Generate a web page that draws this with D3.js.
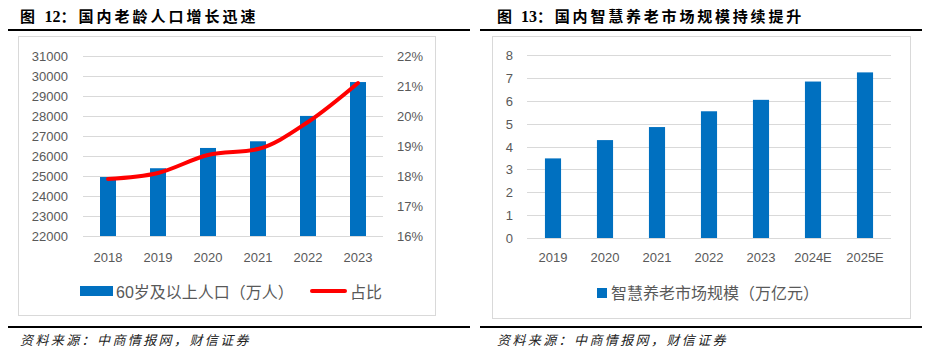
<!DOCTYPE html>
<html>
<head>
<meta charset="utf-8">
<script src="https://cdn.jsdelivr.net/npm/d3@7"></script>
<style>
  body { margin: 0; background: #fff; }
  svg text { font-family: "Liberation Sans", "Noto Sans CJK SC", sans-serif; }
</style>
</head>
<body>
<div id="chart"></div>
<script>
// left chart: elderly population
var years = ["2018", "2019", "2020", "2021", "2022", "2023"];
var elderly = [24949, 25388, 26402, 26736, 28004, 29697]; // 万人
var share = [17.9, 18.1, 18.7, 18.9, 19.8, 21.1]; // %
var popTicks = [22000, 23000, 24000, 25000, 26000, 27000, 28000, 29000, 30000, 31000];
var pctTicks = [16, 17, 18, 19, 20, 21, 22];

// right chart: smart elderly-care market
var marketYears = ["2019", "2020", "2021", "2022", "2023", "2024E", "2025E"];
var marketSize = [3.48, 4.28, 4.85, 5.54, 6.04, 6.84, 7.24]; // 万亿元
var marketTicks = [0, 1, 2, 3, 4, 5, 6, 7, 8];

var blue = "#0070c0",
    red = "#ff0000",
    grid = "#d9d9d9",
    labelColor = "#595959";

var svg = d3.select("#chart").append("svg")
    .attr("width", 935)
    .attr("height", 359);

// frame: title, black rules, box, source line
function frame(x0, x1, boxX0, boxX1, boxY1, titleX, num, title, spacing) {
    var t = svg.append("text")
        .attr("x", titleX)
        .attr("y", 22)
        .style("font-size", "15px")
        .style("font-weight", "bold")
        .style("letter-spacing", spacing + "px")
        .style("fill", "#000");
    t.append("tspan").style("font-family", "Noto Sans CJK SC").text("图 ");
    t.append("tspan").style("font-family", "Liberation Serif").style("font-size", "16px")
        .style("letter-spacing", "0px").text(num);
    t.append("tspan").style("font-family", "Noto Sans CJK SC").text("：" + title);

    svg.append("line")
        .attr("x1", x0).attr("x2", x1)
        .attr("y1", 30).attr("y2", 30)
        .attr("stroke", "#000").attr("stroke-width", 2);
    svg.append("rect")
        .attr("x", boxX0 + 0.5).attr("y", 36.5)
        .attr("width", boxX1 - boxX0).attr("height", boxY1 - 36)
        .attr("fill", "none").attr("stroke", grid);
    svg.append("line")
        .attr("x1", x0).attr("x2", x1)
        .attr("y1", 327).attr("y2", 327)
        .attr("stroke", "#000").attr("stroke-width", 2);
    svg.append("text")
        .attr("x", titleX)
        .attr("y", 345)
        .style("font-family", "Noto Sans CJK SC")
        .style("font-size", "13px")
        .style("font-style", "italic")
        .style("letter-spacing", "2.4px")
        .style("fill", "#222")
        .text("资料来源：中商情报网，财信证券");
}

frame(8, 470, 18, 435, 315, 20, "12", "国内老龄人口增长迅速", 3);
frame(480, 922, 492, 910, 318, 497, "13", "国内智慧养老市场规模持续提升", 2.8);

// ---------- left chart ----------
var x1 = d3.scaleBand().domain(years).range([83, 383]).paddingInner(0.68).paddingOuter(0.34);
var yPop = d3.scaleLinear().domain([22000, 31000]).range([236, 56]);
var yPct = d3.scaleLinear().domain([16, 22]).range([236, 56]);

var g1 = svg.append("g");

g1.selectAll(".grid")
    .data(popTicks)
    .enter().append("line")
    .attr("x1", 83).attr("x2", 383)
    .attr("y1", function (d) { return Math.round(yPop(d)) + 0.5; })
    .attr("y2", function (d) { return Math.round(yPop(d)) + 0.5; })
    .attr("stroke", grid);

g1.append("g")
    .attr("transform", "translate(70,0)")
    .call(d3.axisLeft(yPop).tickValues(popTicks).tickSize(0).tickPadding(2).tickFormat(d3.format("d")));
g1.append("g")
    .attr("transform", "translate(395,0)")
    .call(d3.axisRight(yPct).tickValues(pctTicks).tickSize(0).tickPadding(2).tickFormat(function (d) { return d + "%"; }));
g1.append("g")
    .attr("transform", "translate(0,257)")
    .call(d3.axisBottom(x1).tickSize(0).tickPadding(0));

g1.selectAll(".bar")
    .data(elderly)
    .enter().append("rect")
    .attr("x", function (d, i) { return x1(years[i]); })
    .attr("width", x1.bandwidth())
    .attr("y", function (d) { return yPop(d); })
    .attr("height", function (d) { return yPop(22000) - yPop(d); })
    .attr("fill", blue);

var line = d3.line()
    .x(function (d, i) { return x1(years[i]) + x1.bandwidth() / 2; })
    .y(function (d) { return yPct(d); })
    .curve(d3.curveMonotoneX);

g1.append("path")
    .datum(share)
    .attr("d", line)
    .attr("fill", "none")
    .attr("stroke", red)
    .attr("stroke-width", 4)
    .attr("stroke-linecap", "round");

// legend
g1.append("rect").attr("x", 80).attr("y", 286).attr("width", 33).attr("height", 10).attr("fill", blue);
g1.append("text").attr("class", "legend").attr("x", 116).attr("y", 292).text("60岁及以上人口（万人）");
g1.append("line").attr("x1", 312).attr("x2", 345).attr("y1", 291).attr("y2", 291)
    .attr("stroke", red).attr("stroke-width", 4).attr("stroke-linecap", "round");
g1.append("text").attr("class", "legend").attr("x", 350).attr("y", 292).text("占比");

// ---------- right chart ----------
var x2 = d3.scaleBand().domain(marketYears).range([527, 891]).paddingInner(0.69).paddingOuter(0.345);
var yMkt = d3.scaleLinear().domain([0, 8]).range([238, 55]);

var g2 = svg.append("g");

g2.selectAll(".grid")
    .data(marketTicks)
    .enter().append("line")
    .attr("x1", 527).attr("x2", 891)
    .attr("y1", function (d) { return Math.round(yMkt(d)) + 0.5; })
    .attr("y2", function (d) { return Math.round(yMkt(d)) + 0.5; })
    .attr("stroke", grid);

g2.append("g")
    .attr("transform", "translate(515,0)")
    .call(d3.axisLeft(yMkt).tickValues(marketTicks).tickSize(0).tickPadding(2).tickFormat(d3.format("d")));
g2.append("g")
    .attr("transform", "translate(0,257)")
    .call(d3.axisBottom(x2).tickSize(0).tickPadding(0));

g2.selectAll(".bar")
    .data(marketSize)
    .enter().append("rect")
    .attr("x", function (d, i) { return x2(marketYears[i]); })
    .attr("width", x2.bandwidth())
    .attr("y", function (d) { return yMkt(d); })
    .attr("height", function (d) { return yMkt(0) - yMkt(d); })
    .attr("fill", blue);

g2.append("rect").attr("x", 597).attr("y", 288).attr("width", 10).attr("height", 10).attr("fill", blue);
g2.append("text").attr("class", "legend").attr("x", 611).attr("y", 293).text("智慧养老市场规模（万亿元）");

// shared text styling
svg.selectAll(".domain").remove();
svg.selectAll(".tick text")
    .style("font-size", "13px")
    .style("fill", labelColor)
    .attr("y", 0)
    .attr("dy", null)
    .attr("dominant-baseline", "central");
svg.selectAll("text.legend")
    .style("font-size", "16px")
    .style("fill", labelColor)
    .attr("dominant-baseline", "central");
</script>
</body>
</html>
